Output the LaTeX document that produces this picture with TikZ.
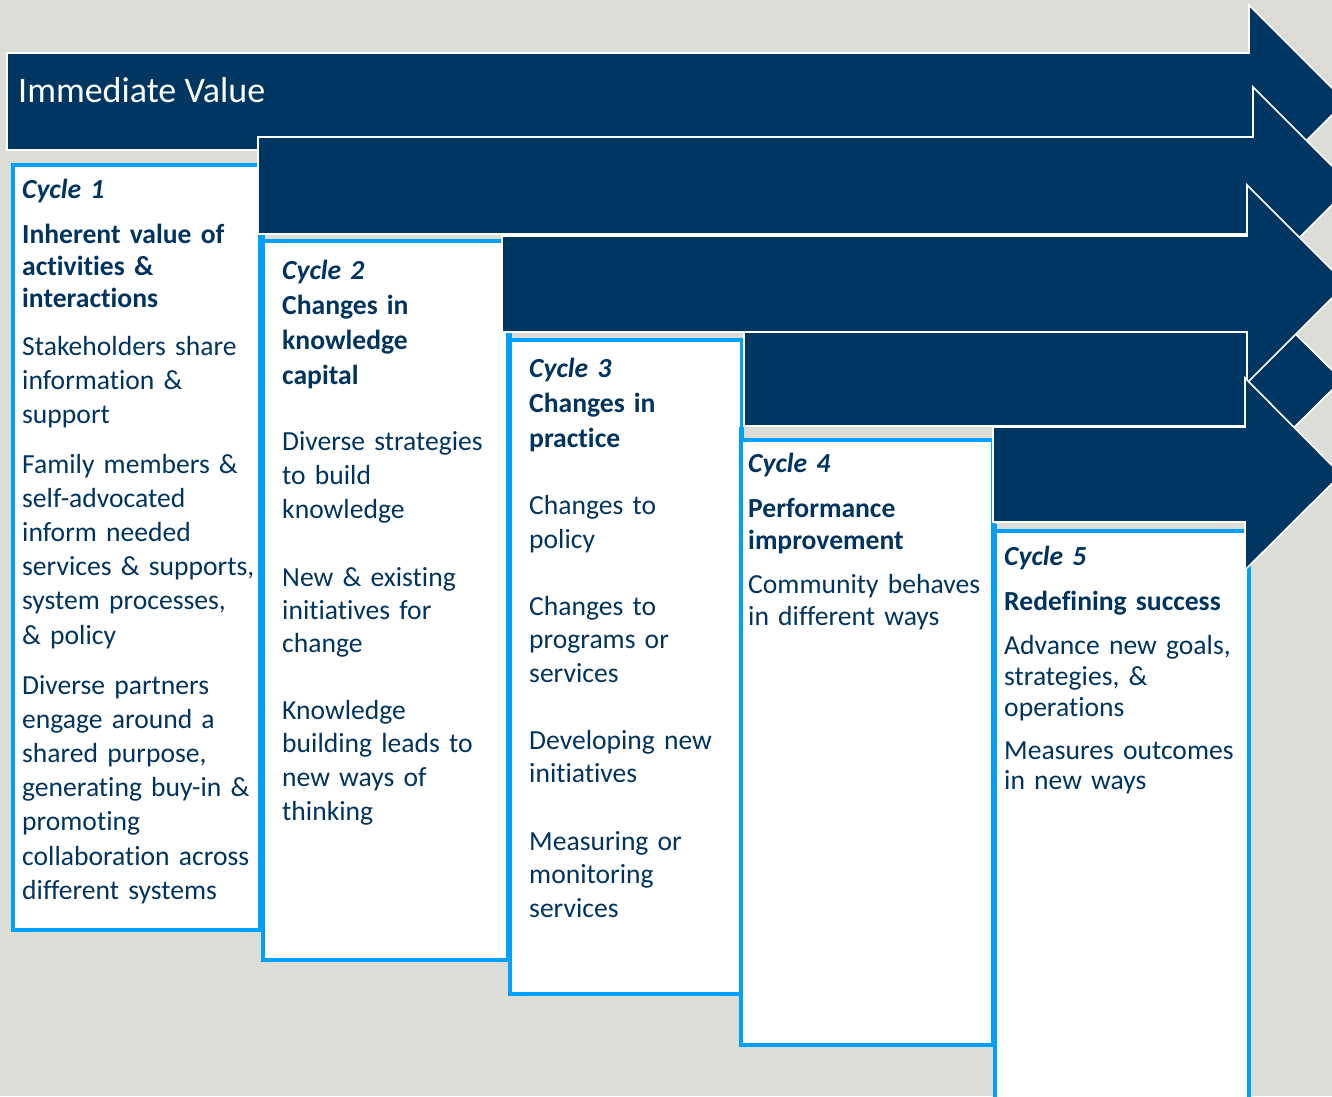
\documentclass[tikz,border=0pt]{standalone}
\usepackage{fontspec}
\setmainfont{Carlito}[Ligatures=NoCommon]
\definecolor{navy}{RGB}{0,54,98}
\definecolor{ink}{RGB}{0,52,96}
\definecolor{bord}{RGB}{0,160,255}
\definecolor{bgc}{RGB}{221,221,216}
\begin{document}
\begin{tikzpicture}[x=1pt,y=-1pt,
  arrowshape/.style={fill=navy, draw=white, line width=1.6pt, line join=miter},
  boxline/.style={draw=bord, line width=4pt},
  cyc/.style={anchor=base west, inner sep=0pt, text width=300pt, align=left, text=ink,
    font=\bfseries\itshape\fontsize{27.6}{34}\selectfont},
  head/.style={anchor=base west, inner sep=0pt, text width=300pt, align=left, text=ink,
    font=\bfseries\fontsize{27.6}{#1}\selectfont},
  para/.style={anchor=base west, inner sep=0pt, text width=300pt, align=left, text=ink,
    font=\fontsize{27.6}{#1}\selectfont}]
\useasboundingbox (0,0) rectangle (1332,1096);
\clip (0,0) rectangle (1332,1096);
\fill[bgc] (0,0) rectangle (1332,1096);

% boxes
\fill[white] (13,165) rectangle (260,930);
\draw[boxline] (13,163) -- (13,930) -- (260,930) -- (260,165) -- (11,165);
\fill[white] (263,241) rectangle (508,960);
\draw[boxline] (263,235) -- (263,960) -- (508,960) -- (508,241) -- (261,241);
\fill[white] (510,340) rectangle (742,994);
\draw[boxline] (510,333) -- (510,994) -- (742,994) -- (742,340) -- (508,340);
\fill[white] (741,440) rectangle (993,1045);
\draw[boxline] (741,427) -- (741,1045) -- (993,1045) -- (993,440) -- (739,440);
\fill[white] (995,531) rectangle (1249,1110);
\draw[boxline] (995,524) -- (995,1110) -- (1249,1110) -- (1249,531) -- (993,531);

% arrows
\draw[arrowshape] (7,53) -- (1249,53) -- (1249,5) -- (1345.5,101.5) -- (1249,198) -- (1249,150) -- (7,150) -- cycle;
\draw[arrowshape] (258,137) -- (1253,137) -- (1253,87) -- (1351.5,185.5) -- (1253,284) -- (1253,234) -- (258,234) -- cycle;
\draw[arrowshape] (744,332) -- (1247,332) -- (1247,286) -- (1342,380) -- (1247,474) -- (1247,426) -- (744,426) -- cycle;
\draw[arrowshape] (502,236) -- (1247,236) -- (1247,185) -- (1346,284) -- (1247,383) -- (1247,332) -- (502,332) -- cycle;
\draw[arrowshape] (993,427) -- (1245,427) -- (1245,378) -- (1341,474.5) -- (1245,570) -- (1245,522) -- (993,522) -- cycle;

\node[anchor=base west, inner sep=0pt, text=white, font=\fontsize{36}{42}\selectfont] (iv) at (18,102) {Immediate Value};

% box 1
\node[cyc] (c1) at (22,198) {Cycle 1};
\node[head=32] (h1) at (22,243) {Inherent value of\\activities \&\\interactions};
\node[para=34] (p1a) at (22,355) {Stakeholders share\\information \&\\support};
\node[para=34.2] (p1b) at (22,473) {Family members \&\\self-advocated\\inform needed\\services \& supports,\\system processes,\\\& policy};
\node[para=34.2] (p1c) at (22,694) {Diverse partners\\engage around a\\shared purpose,\\generating buy-in \&\\promoting\\collaboration across\\different systems};

% box 2
\node[cyc] (c2) at (282,279) {Cycle 2};
\node[head=35] (h2) at (282,314) {Changes in\\knowledge\\capital};
\node[para=34] (p2a) at (282,450) {Diverse strategies\\to build\\knowledge};
\node[para=33] (p2b) at (282,586) {New \& existing\\initiatives for\\change};
\node[para=33.7] (p2c) at (282,719) {Knowledge\\building leads to\\new ways of\\thinking};

% box 3
\node[cyc] (c3) at (529,377) {Cycle 3};
\node[head=35] (h3) at (529,412) {Changes in\\practice};
\node[para=34] (p3a) at (529,514) {Changes to\\policy};
\node[para=33.5] (p3b) at (529,615) {Changes to\\programs or\\services};
\node[para=33] (p3c) at (529,749) {Developing new\\initiatives};
\node[para=33.5] (p3d) at (529,850) {Measuring or\\monitoring\\services};

% box 4
\node[cyc] (c4) at (748,472) {Cycle 4};
\node[head=32] (h4) at (748,517) {Performance\\improvement};
\node[para=32] (p4a) at (748,593) {Community behaves\\in different ways};

% box 5
\node[cyc] (c5) at (1004,565) {Cycle 5};
\node[head=32] (h5) at (1004,610) {Redefining success};
\node[para=31] (p5a) at (1004,654) {Advance new goals,\\strategies, \&\\operations};
\node[para=30] (p5b) at (1004,759) {Measures outcomes\\in new ways};
\end{tikzpicture}
\end{document}
